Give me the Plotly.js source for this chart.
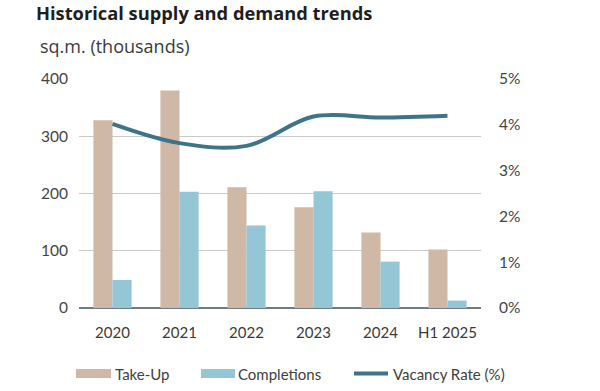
<!DOCTYPE html>
<html><head><meta charset="utf-8">
<script src="https://cdn.plot.ly/plotly-3.0.1.min.js"></script>
<style>body{margin:0;background:#fff}#chart{width:600px;height:391px}</style>
</head><body><div id="chart"></div>
<script>
const categories = ["2020","2021","2022","2023","2024","H1 2025"];
const takeUp = [328, 380, 211, 176, 132, 102];
const completions = [49, 203, 144, 204, 81, 13];
const vacancyRate = [4.02, 3.6, 3.54, 4.18, 4.16, 4.2];
const leftTicks = [0, 100, 200, 300, 400];
const rightTicks = [0, 1, 2, 3, 4, 5];
const rightTickText = ["0%","1%","2%","3%","4%","5%"];

const FONT = "Lato, 'Noto Sans', sans-serif";
const TFONT = "'Open Sans', 'Noto Sans', sans-serif";
const cTake = "#d0b8a6", cComp = "#94c6d6", cVac = "#3e7487";

const traces = [
  {type:"bar", name:"Take-Up", x:categories, y:takeUp, marker:{color:cTake}, hoverinfo:"skip"},
  {type:"bar", name:"Completions", x:categories, y:completions, marker:{color:cComp}, hoverinfo:"skip"},
  {type:"scatter", mode:"lines", name:"Vacancy Rate (%)", x:categories, y:vacancyRate, yaxis:"y2",
   line:{color:cVac, width:4, shape:"spline", smoothing:1.0}, hoverinfo:"skip"}
];

const H = 229, W = 402, L = 79, T = 79;
const px = v => (v - L) / W;
const py = v => 1 - (v - T) / H;
const legY = 374;
const layout = {
  width:600, height:391,
  margin:{l:79, r:119, t:79, b:83},
  paper_bgcolor:"#fff", plot_bgcolor:"#fff",
  font:{family:FONT, color:"#404040", size:15},
  barmode:"group", bargap:0.43, bargroupgap:0,
  showlegend:false,
  xaxis:{type:"category", range:[-0.5,5.5], tickfont:{size:15, color:"#3a3a3a"}, ticks:"", showgrid:false,
         showline:false, zeroline:false, ticklabelstandoff:14},
  yaxis:{range:[0,400], tickvals:leftTicks, tickfont:{size:15.5, color:"#444"}, gridcolor:"#cacaca", gridwidth:1.3,
         zeroline:true, zerolinecolor:"#6f7c80", zerolinewidth:2, ticks:"", ticklabelstandoff:10},
  yaxis2:{range:[0,5], overlaying:"y", side:"right", tickvals:rightTicks, ticktext:rightTickText,
          tickfont:{size:15.5, color:"#444"}, showgrid:false, zeroline:false, ticks:"", ticklabelstandoff:17},
  annotations:[
    {xref:"paper", yref:"paper", x:px(34), y:py(12), xanchor:"left", yanchor:"middle", showarrow:false,
     text:"Historical supply and demand trends", font:{size:18.3, color:"#1e1e1e", family:TFONT, weight:700}},
    {xref:"paper", yref:"paper", x:px(38), y:py(46), xanchor:"left", yanchor:"middle", showarrow:false,
     text:"sq.m. (thousands)", font:{size:18, color:"#3a3a3a", family:TFONT}},
    {xref:"paper", yref:"paper", x:px(113), y:py(legY), xanchor:"left", yanchor:"middle", showarrow:false,
     text:"Take-Up", font:{size:15, color:"#404040"}},
    {xref:"paper", yref:"paper", x:px(236), y:py(legY), xanchor:"left", yanchor:"middle", showarrow:false,
     text:"Completions", font:{size:15, color:"#404040"}},
    {xref:"paper", yref:"paper", x:px(391), y:py(legY), xanchor:"left", yanchor:"middle", showarrow:false,
     text:"Vacancy Rate (%)", font:{size:15, color:"#404040"}}
  ],
  shapes:[
    {type:"rect", xref:"paper", yref:"paper", x0:px(76), x1:px(111), y0:py(378), y1:py(369),
     fillcolor:cTake, line:{width:0}},
    {type:"rect", xref:"paper", yref:"paper", x0:px(201), x1:px(235), y0:py(378), y1:py(369),
     fillcolor:cComp, line:{width:0}},
    {type:"line", xref:"paper", yref:"paper", x0:px(354), x1:px(388), y0:py(373.5), y1:py(373.5),
     line:{color:cVac, width:4}}
  ]
};
Plotly.newPlot("chart", traces, layout, {displayModeBar:false, staticPlot:true});
</script></body></html>
